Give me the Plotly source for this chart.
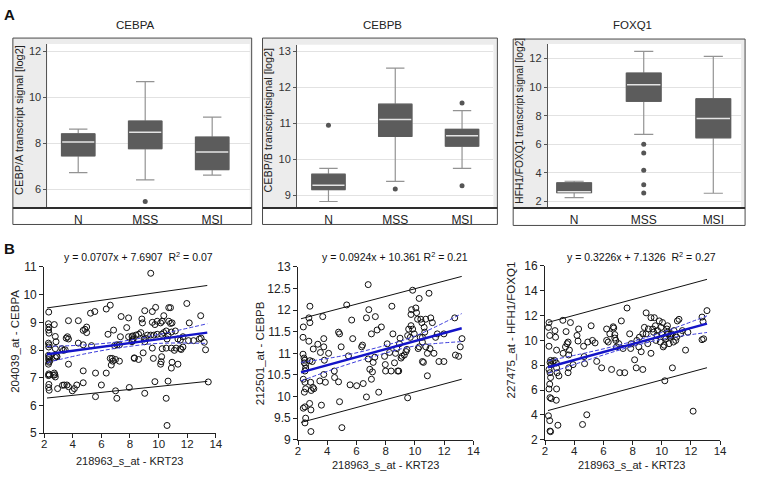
import plotly.graph_objects as go

W, H = 758, 481
FONT = "Arial, Liberation Sans, Helvetica, sans-serif"

# ---------------- Panel A: box plot statistics ----------------
groups = ["N", "MSS", "MSI"]

cebpa_q1 = [7.45, 7.76, 6.85]
cebpa_med = [8.05, 8.48, 7.62]
cebpa_q3 = [8.41, 8.97, 8.27]
cebpa_lo = [6.72, 6.40, 6.61]
cebpa_hi = [8.62, 10.69, 9.14]
cebpa_out_grp = ["MSS"]
cebpa_out_val = [5.46]

cebpb_q1 = [9.15, 10.63, 10.36]
cebpb_med = [9.27, 11.10, 10.65]
cebpb_q3 = [9.58, 11.53, 10.83]
cebpb_lo = [8.82, 9.38, 9.74]
cebpb_hi = [9.74, 12.53, 11.35]
cebpb_out_grp = ["N", "MSS", "MSI", "MSI"]
cebpb_out_val = [10.94, 9.17, 11.56, 9.26]

foxq1_q1 = [2.61, 9.00, 6.45]
foxq1_med = [2.68, 10.16, 7.80]
foxq1_q3 = [3.30, 10.98, 9.18]
foxq1_lo = [2.27, 6.69, 2.57]
foxq1_hi = [3.41, 12.50, 12.14]
foxq1_out_grp = ["MSS", "MSS", "MSS", "MSS", "MSS"]
foxq1_out_val = [6.00, 5.39, 4.18, 3.16, 2.59]

# ---------------- Panel B: scatter data ----------------
krt23_a = [2.32, 2.30, 2.33, 2.31, 2.34, 2.30, 2.35, 2.32, 2.30, 2.36, 2.33, 2.31, 2.38, 2.34, 2.30, 2.32, 2.36, 2.30, 2.33, 2.31, 2.35,
           2.71, 2.78, 2.83, 2.78, 2.85, 2.78, 2.90, 2.71, 2.75, 2.66, 2.78, 2.94, 3.28, 3.40, 3.59, 3.70, 3.97, 4.11, 4.28, 4.73,
           6.00, 6.99, 7.08, 7.95, 5.59, 3.70, 4.39, 3.63, 3.54, 3.70, 4.73, 4.85, 4.97, 4.97, 5.24, 5.54, 6.34, 6.62, 6.46, 6.85,
           7.38, 7.77, 7.90, 7.33, 7.90, 8.14, 8.14, 7.10, 6.92, 7.26, 4.39, 4.73, 5.31, 3.47, 3.24, 3.35, 3.70, 4.73, 5.59, 6.34,
           6.62, 6.76, 6.80, 6.99, 7.26, 6.69, 8.30,
           9.45, 9.03, 9.56, 9.79, 10.71, 10.83, 11.97, 12.94, 8.83, 8.87, 9.56, 9.74, 9.90, 10.14, 10.25, 10.36, 10.71, 10.83, 10.94, 12.14,
           8.18, 8.41, 8.60, 8.76, 8.99, 9.10, 9.22, 9.45, 9.67, 9.90, 10.21, 10.36, 10.53, 10.66, 10.89, 11.17, 10.59, 11.35, 11.52, 11.70,
           12.09, 12.44, 12.85, 12.97, 13.19, 8.18, 8.23, 9.03, 9.56, 10.25, 10.53, 10.89, 11.22, 11.10, 11.52, 11.58, 11.70, 13.28, 8.92, 8.30,
           8.60, 9.63, 10.21, 10.18, 10.14, 10.94, 11.35, 10.89, 9.74, 10.66, 13.47, 9.03, 10.53, 10.59]
cebpa_b = [9.37, 8.95, 8.83, 8.72, 8.61, 8.25, 8.19, 8.11, 7.81, 7.76, 7.73, 7.66, 7.60, 7.56, 7.49, 7.14, 7.10, 7.08, 6.76, 6.65, 6.55,
           8.92, 8.49, 8.30, 8.05, 7.79, 7.73, 7.76, 7.17, 7.11, 7.09, 7.03, 6.61, 6.73, 6.74, 6.74, 6.68, 6.53, 6.61, 6.74, 6.82,
           6.74, 6.53, 6.26, 6.65, 6.32, 9.06, 9.06, 8.48, 8.43, 8.40, 8.71, 8.75, 8.83, 8.63, 9.33, 9.39, 9.48, 9.62, 8.57, 8.72,
           9.21, 8.81, 9.16, 8.48, 8.48, 8.48, 8.30, 8.19, 8.16, 8.19, 8.25, 8.19, 8.16, 8.01, 8.05, 7.99, 7.49, 7.25, 7.17, 7.17,
           7.70, 7.70, 7.60, 7.66, 7.60, 7.46, 7.70,
           10.77, 9.42, 9.39, 9.54, 9.53, 9.53, 9.68, 9.24, 9.12, 8.98, 9.00, 8.92, 9.04, 8.98, 9.04, 9.24, 9.04, 8.96, 8.98, 8.98,
           8.51, 8.54, 8.57, 8.63, 8.40, 8.42, 8.54, 8.54, 8.54, 8.57, 8.57, 8.63, 8.69, 8.54, 8.65, 8.69, 8.40, 8.40, 8.36, 8.48,
           8.34, 8.34, 8.40, 8.43, 8.28, 8.34, 8.40, 8.30, 8.07, 8.05, 8.07, 8.07, 8.07, 7.99, 8.05, 8.02, 8.11, 8.01, 7.90, 7.72,
           7.66, 7.70, 7.76, 7.58, 7.49, 7.56, 7.49, 7.35, 6.86, 6.88, 6.85, 6.44, 6.26, 5.28]

krt23_b = [2.36, 2.34, 2.34, 2.41, 2.47, 2.43, 2.52, 2.52, 2.47, 2.36, 2.47, 2.52, 2.43, 2.47, 2.36, 2.52, 2.47, 2.81, 2.74, 2.81,
           2.74, 2.81, 2.86, 2.90, 2.79, 2.88, 2.88, 2.97, 3.04, 3.01, 3.08, 3.35, 3.53, 3.49, 3.60, 3.69, 3.76, 3.76, 3.80, 3.76,
           3.87, 4.09, 4.48, 4.50, 4.77, 4.84, 4.77, 4.84, 5.00, 4.95, 5.33, 5.45, 5.56, 5.67, 5.74, 6.01, 6.35, 6.41, 6.46, 6.68,
           6.68, 6.80, 6.84, 6.80, 6.91, 7.02, 7.02, 7.09, 7.14, 7.25, 7.29, 7.41, 7.52, 7.70, 7.92, 7.97, 7.99, 8.10, 8.26, 8.42,
           8.49, 8.37, 8.60, 8.67, 8.76, 8.82, 8.89, 8.94, 8.98, 9.05, 9.12, 9.27, 9.39, 9.45, 9.50, 9.57, 9.68, 9.73, 9.73, 9.77,
           9.84, 9.84, 9.95, 10.06, 10.11, 10.18, 10.22, 10.29, 10.29, 10.36, 10.40, 10.47, 10.51, 10.51, 10.51, 10.58, 10.63, 10.67, 10.74, 10.74,
           10.85, 10.85, 10.96, 11.03, 11.08, 11.19, 11.30, 11.41, 11.53, 11.64, 11.98, 11.98, 12.72, 12.77, 12.99, 13.22, 13.10, 9.50]
cebpb_b = [11.61, 11.37, 10.98, 10.89, 10.84, 10.78, 10.74, 10.66, 10.59, 10.40, 10.33, 10.18, 10.10, 9.76, 9.73, 9.50, 9.39, 12.09, 11.82, 11.71,
           11.28, 10.83, 10.33, 10.14, 9.84, 9.69, 9.19, 10.81, 11.10, 10.21, 10.18, 11.21, 11.02, 10.36, 9.80, 11.85, 11.34, 11.15, 10.84, 10.51,
           10.33, 11.00, 10.59, 10.44, 11.49, 11.45, 10.34, 9.88, 9.28, 11.15, 12.12, 10.94, 10.27, 11.77, 11.34, 10.25, 11.15, 11.19, 10.30, 9.99,
           11.82, 12.59, 12.01, 10.87, 10.63, 11.45, 10.40, 10.57, 10.79, 10.91, 11.85, 11.54, 10.10, 11.61, 10.93, 10.74, 10.59, 11.22, 11.02, 12.09,
           11.45, 10.59, 10.78, 11.00, 11.11, 10.59, 10.59, 11.22, 11.35, 10.89, 10.93, 10.96, 11.04, 11.09, 11.41, 11.56, 11.37, 11.64, 11.90, 12.01,
           12.46, 11.56, 11.45, 12.05, 11.94, 11.79, 11.11, 12.27, 11.15, 11.37, 11.79, 11.71, 11.37, 11.26, 10.81, 10.79, 11.60, 11.49, 11.79, 11.15,
           10.48, 11.00, 12.39, 11.11, 11.82, 11.71, 11.00, 11.37, 11.45, 10.81, 10.81, 11.45, 11.82, 10.96, 10.93, 11.34, 11.15, 9.97]

krt23_c = [2.27, 2.23, 2.32, 2.27, 2.38, 2.34, 2.43, 2.27, 2.34, 2.38, 2.32, 2.27, 2.34, 2.43, 2.23, 2.32, 2.34, 2.38, 2.54, 2.65,
           2.68, 2.72, 2.79, 2.77, 2.79, 2.83, 2.79, 2.77, 2.95, 2.88, 3.22, 3.24, 3.40, 3.44, 3.51, 3.58, 3.62, 3.58, 3.62, 3.67,
           3.74, 3.92, 4.19, 4.30, 4.26, 4.64, 4.68, 4.71, 4.57, 4.86, 4.93, 5.16, 5.25, 5.43, 5.54, 5.88, 6.22, 6.22, 6.33, 6.44,
           6.56, 6.67, 6.71, 6.78, 6.78, 6.85, 6.90, 7.05, 7.12, 7.23, 7.35, 7.46, 7.62, 7.80, 7.87, 7.91, 8.14, 8.25, 8.29, 8.43,
           8.47, 8.59, 8.70, 8.70, 8.81, 8.93, 8.93, 9.04, 9.08, 9.26, 9.26, 9.38, 9.44, 9.49, 9.56, 9.60, 9.67, 9.71, 9.83, 9.90,
           9.94, 9.99, 10.05, 10.10, 10.17, 10.21, 10.21, 10.28, 10.35, 10.39, 10.39, 10.44, 10.50, 10.57, 10.62, 10.66, 10.73, 10.80, 10.84, 10.96,
           11.02, 11.07, 11.18, 11.29, 11.41, 11.63, 11.79, 12.15, 12.76, 12.83, 13.10, 12.87, 12.76]
foxq1_b = [11.44, 11.05, 10.40, 9.53, 8.39, 8.23, 8.05, 7.66, 7.40, 7.01, 6.48, 6.09, 5.39, 5.31, 3.93, 3.54, 2.70, 2.65, 8.31, 8.39,
           10.79, 10.26, 9.22, 8.18, 7.79, 7.40, 6.09, 5.18, 7.14, 3.17, 11.62, 8.96, 9.48, 10.71, 9.74, 9.87, 7.79, 7.40, 8.83, 9.22,
           11.44, 8.05, 10.40, 10.92, 9.95, 9.53, 8.70, 8.13, 3.23, 4.01, 9.87, 11.18, 10.00, 9.80, 8.31, 7.79, 10.92, 10.00, 9.87, 10.53,
           7.66, 11.10, 11.00, 10.47, 10.19, 10.00, 9.48, 9.74, 7.40, 11.57, 9.35, 7.40, 12.61, 10.53, 9.35, 9.74, 8.44, 7.79, 10.00, 9.48,
           10.26, 9.09, 10.53, 7.66, 11.05, 12.22, 10.53, 9.74, 10.92, 11.83, 8.96, 10.92, 10.66, 11.83, 11.18, 10.00, 10.40, 10.79, 11.57, 9.87,
           11.05, 10.53, 11.44, 9.48, 9.61, 10.26, 6.75, 10.13, 10.92, 11.18, 10.66, 10.53, 9.74, 10.26, 10.40, 10.53, 7.79, 9.87, 10.79, 10.00,
           10.26, 11.57, 11.70, 10.53, 10.79, 9.22, 10.66, 4.30, 11.88, 11.52, 12.40, 10.13, 10.06]

# regression line, 95% prediction band and 95% confidence band
fit_x_a = [2.2, 13.4]
fit_y_a = [7.85, 8.63]
pi_up_a = [9.52, 10.33]
pi_lo_a = [6.27, 6.87]
ci_x_a = [2.2, 5.0, 7.5, 10.0, 13.4]
ci_up_a = [8.13, 8.19, 8.32, 8.56, 8.95]
ci_lo_a = [7.55, 7.88, 8.10, 8.24, 8.24]

fit_x_b = [2.2, 13.2]
fit_y_b = [10.56, 11.58]
pi_up_b = [11.80, 12.78]
pi_lo_b = [9.40, 10.40]
ci_x_b = [2.2, 5.0, 7.5, 10.0, 13.2]
ci_up_b = [10.79, 10.94, 11.14, 11.40, 11.92]
ci_lo_b = [10.36, 10.70, 10.96, 11.17, 11.27]

fit_x_c = [2.2, 13.1]
fit_y_c = [7.84, 11.36]
pi_up_c = [11.45, 14.92]
pi_lo_c = [4.35, 7.80]
ci_x_c = [2.2, 5.0, 7.5, 10.0, 13.1]
ci_up_c = [8.36, 9.05, 9.76, 10.64, 11.98]
ci_lo_c = [7.34, 8.45, 9.36, 10.09, 10.64]

ticks_cat = [0, 1, 2]


def fx(p):
    return p / W


def fy(p):
    return 1 - p / H


fig = go.Figure()
layout = {}
shapes = []
annotations = []

top_panels = [
    dict(title="CEBPA", ytitle="CEBP/A transcript signal [log2]", q1=cebpa_q1, med=cebpa_med, q3=cebpa_q3,
         lo=cebpa_lo, hi=cebpa_hi, og=cebpa_out_grp, ov=cebpa_out_val,
         frame=(10, 32, 252, 224), plot=(45, 38, 250, 207), xr=[-0.46, 2.56], yr=[5.18, 12.33], dtick=2, tfs=11),
    dict(title="CEBPB", ytitle="CEBP/B transcriptsignal [log2]", q1=cebpb_q1, med=cebpb_med, q3=cebpb_q3,
         lo=cebpb_lo, hi=cebpb_hi, og=cebpb_out_grp, ov=cebpb_out_val,
         frame=(263, 32, 501, 224), plot=(298, 39, 497, 207), xr=[-0.47, 2.47], yr=[8.64, 13.18], dtick=1, tfs=10.8),
    dict(title="FOXQ1", ytitle="HFH1/FOXQ1 transcript signal [log2]", q1=foxq1_q1, med=foxq1_med, q3=foxq1_q3,
         lo=foxq1_lo, hi=foxq1_hi, og=foxq1_out_grp, ov=foxq1_out_val,
         frame=(517, 33, 752, 225), plot=(552, 38, 748, 207), xr=[-0.38, 2.4], yr=[1.54, 13.02], dtick=2, tfs=10.2),
]

for i, p in enumerate(top_panels, start=1):
    xa = "x" if i == 1 else f"x{i}"
    ya = "y" if i == 1 else f"y{i}"
    xk = "xaxis" if i == 1 else f"xaxis{i}"
    yk = "yaxis" if i == 1 else f"yaxis{i}"
    fl, ft, fr, fb = p["frame"]
    pl, pt, pr, pb = p["plot"]
    # background decoration
    shapes.append(dict(type="rect", xref="paper", yref="paper", x0=fx(fl), x1=fx(fr), y0=fy(pb), y1=fy(ft),
                       fillcolor="#ececec", line=dict(width=0), layer="below"))
    shapes.append(dict(type="rect", xref="paper", yref="paper", x0=fx(pl), x1=fx(pr), y0=fy(pb), y1=fy(pt),
                       fillcolor="white", line=dict(width=0), layer="below"))
    shapes.append(dict(type="rect", xref="paper", yref="paper", x0=fx(fl), x1=fx(fr), y0=fy(fb), y1=fy(ft),
                       fillcolor="rgba(0,0,0,0)", line=dict(color="#4a4a4a", width=1), layer="above"))
    shapes.append(dict(type="line", xref="paper", yref="paper", x0=fx(fl), x1=fx(fr), y0=fy(pb), y1=fy(pb),
                       line=dict(color="#2e2e2e", width=2), layer="above"))
    pos = ticks_cat
    fig.add_trace(go.Box(x=pos, q1=p["q1"], median=p["med"], q3=p["q3"], lowerfence=p["lo"], upperfence=p["hi"],
                         width=0.5, whiskerwidth=0.55, fillcolor="#5c5c5c", line=dict(color="#939393", width=1.2),
                         boxpoints=False, xaxis=xa, yaxis=ya, showlegend=False, hoverinfo="skip"))
    fig.add_trace(go.Box(x=pos, q1=p["q1"], median=p["med"], q3=p["q3"], lowerfence=p["q1"], upperfence=p["q3"],
                         width=0.5, whiskerwidth=0, fillcolor="#5c5c5c", line=dict(color="#5c5c5c", width=1),
                         boxpoints=False, xaxis=xa, yaxis=ya, showlegend=False, hoverinfo="skip"))
    mx, my = [], []
    for k, m in enumerate(p["med"]):
        mx += [k - 0.24, k + 0.24, None]
        my += [m, m, None]
    fig.add_trace(go.Scatter(x=mx, y=my, mode="lines", line=dict(color="#e4e4e4", width=1.5),
                             xaxis=xa, yaxis=ya, showlegend=False, hoverinfo="skip"))
    fig.add_trace(go.Scatter(x=[groups.index(g) for g in p["og"]], y=p["ov"], mode="markers",
                             marker=dict(color="#555555", size=5), xaxis=xa, yaxis=ya,
                             showlegend=False, hoverinfo="skip"))
    layout[xk] = dict(domain=[fx(pl), fx(pr)], range=p["xr"], anchor=ya, tickvals=ticks_cat, ticktext=groups,
                      showline=False, showgrid=False, zeroline=False, ticks="", ticklabelstandoff=3,
                      tickfont=dict(size=12, color="#222", family=FONT), fixedrange=True)
    layout[yk] = dict(domain=[fy(pb), fy(pt)], range=p["yr"], anchor=xa, dtick=p["dtick"],
                      showline=True, linecolor="#555", linewidth=1, ticks="outside", ticklen=3, tickcolor="#555",
                      showgrid=True, gridcolor="#e2e2e2", gridwidth=1, zeroline=False,
                      tickfont=dict(size=11, color="#333", family=FONT), fixedrange=True)
    annotations.append(dict(text=p["title"], xref="paper", yref="paper", x=fx((fl + fr) / 2 + 3), y=fy(19),
                            showarrow=False, xanchor="center", yanchor="middle",
                            font=dict(size=11.5, color="#222", family=FONT)))
    annotations.append(dict(text=p["ytitle"], xref="paper", yref="paper", x=fx(fl + 6), y=fy((ft + pb) / 2 - 3),
                            showarrow=False, xanchor="center", yanchor="middle", textangle=-90,
                            font=dict(size=p["tfs"], color="#222", family=FONT)))

bottom_panels = [
    dict(eq="y = 0.0707x + 7.6907&nbsp;&nbsp;R<sup>2</sup> = 0.07", ytitle="204039_at - CEBPA",
         x=krt23_a, y=cebpa_b, fx_=fit_x_a, fy_=fit_y_a, pu=pi_up_a, pd=pi_lo_a, cx=ci_x_a, cu=ci_up_a, cd=ci_lo_a,
         dom=(41.7, 267.7, 215.7, 439.0), yr=[5, 11], dtick=1, ytp=(12, 344), eqp=(137, 257), xtp=(128, 468)),
    dict(eq="y = 0.0924x + 10.361 R<sup>2</sup> = 0.21", ytitle="212501_at - CEBPB",
         x=krt23_b, y=cebpb_b, fx_=fit_x_b, fy_=fit_y_b, pu=pi_up_b, pd=pi_lo_b, cx=ci_x_b, cu=ci_up_b, cd=ci_lo_b,
         dom=(299.0, 267.7, 476.7, 445.7), yr=[9, 13], dtick=0.5, ytp=(260, 357), eqp=(397, 257), xtp=(388, 472)),
    dict(eq="y = 0.3226x + 7.1326&nbsp;&nbsp;R<sup>2</sup> = 0.27", ytitle="227475_at - HFH1/FOXQ1",
         x=krt23_c, y=foxq1_b, fx_=fit_x_c, fy_=fit_y_c, pu=pi_up_c, pd=pi_lo_c, cx=ci_x_c, cu=ci_up_c, cd=ci_lo_c,
         dom=(549.3, 266.7, 726.7, 445.7), yr=[2, 16], dtick=2, ytp=(515, 333), eqp=(647, 257), xtp=(637, 472)),
]

for j, p in enumerate(bottom_panels, start=4):
    xa, ya = f"x{j}", f"y{j}"
    xk, yk = f"xaxis{j}", f"yaxis{j}"
    l, t, r, b = p["dom"]
    fig.add_trace(go.Scatter(x=p["x"], y=p["y"], mode="markers",
                             marker=dict(symbol="circle-open", size=6, color="#111", line=dict(width=1)),
                             xaxis=xa, yaxis=ya, showlegend=False, hoverinfo="skip"))
    fig.add_trace(go.Scatter(x=p["fx_"], y=p["pu"], mode="lines", line=dict(color="#111", width=1),
                             xaxis=xa, yaxis=ya, showlegend=False, hoverinfo="skip"))
    fig.add_trace(go.Scatter(x=p["fx_"], y=p["pd"], mode="lines", line=dict(color="#111", width=1),
                             xaxis=xa, yaxis=ya, showlegend=False, hoverinfo="skip"))
    for band in (p["cu"], p["cd"]):
        fig.add_trace(go.Scatter(x=p["cx"], y=band, mode="lines", line=dict(color="#3c3cdc", width=1, dash="4px,2px", shape="spline"),
                                 xaxis=xa, yaxis=ya, showlegend=False, hoverinfo="skip"))
    fig.add_trace(go.Scatter(x=p["fx_"], y=p["fy_"], mode="lines", line=dict(color="#1414c8", width=2.4),
                             xaxis=xa, yaxis=ya, showlegend=False, hoverinfo="skip"))
    layout[xk] = dict(domain=[fx(l), fx(r)], range=[2, 14], dtick=2, anchor=ya, showline=True, linecolor="#222",
                      linewidth=1, ticks="outside", ticklen=4, tickcolor="#222", showgrid=False, zeroline=False,
                      ticklabelstandoff=-4,
                      tickfont=dict(size=11.5, color="#222", family=FONT), fixedrange=True)
    layout[yk] = dict(domain=[fy(b), fy(t)], range=p["yr"], dtick=p["dtick"], anchor=xa, showline=True,
                      linecolor="#222", linewidth=1, ticks="outside", ticklen=4, tickcolor="#222", showgrid=False,
                      zeroline=False, tickfont=dict(size=12, color="#222", family=FONT), fixedrange=True)
    annotations.append(dict(text=p["eq"], xref="paper", yref="paper", x=fx(p["eqp"][0]), y=fy(p["eqp"][1]),
                            showarrow=False, xanchor="center", yanchor="middle",
                            font=dict(size=10.5, color="#111", family=FONT)))
    annotations.append(dict(text=p["ytitle"], xref="paper", yref="paper", x=fx(p["ytp"][0]), y=fy(p["ytp"][1]),
                            showarrow=False, xanchor="center", yanchor="middle", textangle=-90,
                            font=dict(size=11.5, color="#222", family=FONT)))
    annotations.append(dict(text="218963_s_at - KRT23", xref="paper", yref="paper", x=fx(p["xtp"][0]),
                            y=fy(p["xtp"][1]), showarrow=False, xanchor="center", yanchor="middle",
                            font=dict(size=11, color="#222", family=FONT)))

annotations.append(dict(text="<b>A</b>", xref="paper", yref="paper", x=fx(7), y=fy(8), showarrow=False,
                        xanchor="center", yanchor="middle", font=dict(size=15, color="#111", family=FONT)))
annotations.append(dict(text="<b>B</b>", xref="paper", yref="paper", x=fx(7), y=fy(249), showarrow=False,
                        xanchor="center", yanchor="middle", font=dict(size=15, color="#111", family=FONT)))

fig.update_layout(width=W, height=H, margin=dict(l=0, r=0, t=0, b=0), paper_bgcolor="white",
                  plot_bgcolor="white", showlegend=False, boxmode="overlay", shapes=shapes,
                  annotations=annotations, font=dict(family=FONT), **layout)

fig.write_html("out.html", config={"displayModeBar": False},
               post_script="document.body.style.margin='0px';document.body.style.overflow='hidden';")
